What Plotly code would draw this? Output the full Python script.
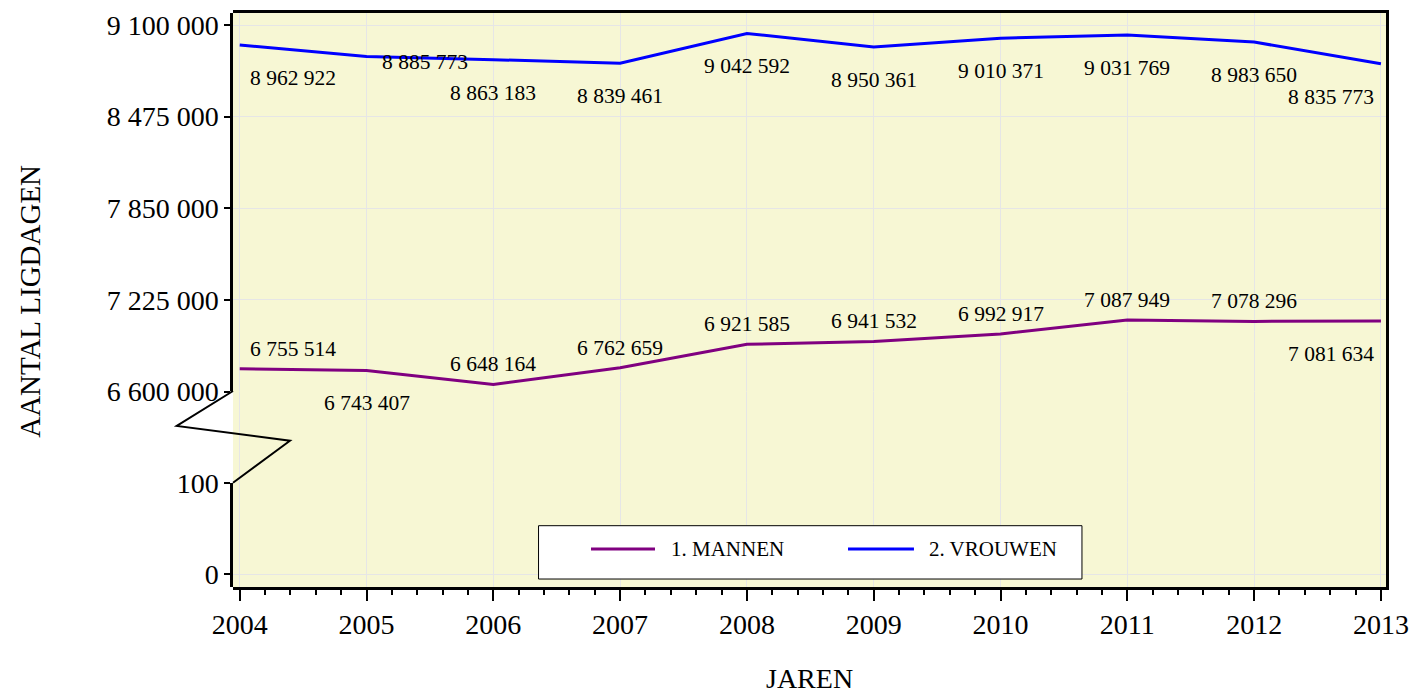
import plotly.graph_objects as go

# ---------------- data ----------------
years = [2004, 2005, 2006, 2007, 2008, 2009, 2010, 2011, 2012, 2013]
mannen = [6755514, 6743407, 6648164, 6762659, 6921585, 6941532, 6992917, 7087949, 7078296, 7081634]
vrouwen = [8962922, 8885773, 8863183, 8839461, 9042592, 8950361, 9010371, 9031769, 8983650, 8835773]
series_names = ["1. MANNEN", "2. VROUWEN"]
upper_ticks = [6600000, 7225000, 7850000, 8475000, 9100000]
lower_ticks = [0, 100]
x_title = "JAREN"
y_title = "AANTAL LIGDAGEN"

# label placement (style only)
mannen_pos = ["above", "below", "above", "above", "above", "above", "above", "above", "above", "below"]
vrouwen_pos = ["below", "side", "below", "below", "below", "below", "below", "below", "below", "below"]

# ---------------- style ----------------
FONT = "Liberation Serif"
BG = "#f7f7d4"
GRID = "#e6e6e6"
C_M = "#800080"
C_V = "#0000ff"


def fmt(v):
    return f"{v:,}".replace(",", " ")


fig = go.Figure()
# dummy traces registering the full-height background subplot and the lower axis subplot
fig.add_trace(go.Scatter(x=[], y=[], xaxis="x", yaxis="y", showlegend=False, hoverinfo="skip"))
fig.add_trace(go.Scatter(x=[], y=[], xaxis="x", yaxis="y2", showlegend=False, hoverinfo="skip"))
fig.add_trace(go.Scatter(x=years, y=mannen, name=series_names[0], mode="lines",
                         line=dict(color=C_M, width=3), xaxis="x", yaxis="y3", showlegend=False))
fig.add_trace(go.Scatter(x=years, y=vrouwen, name=series_names[1], mode="lines",
                         line=dict(color=C_V, width=3), xaxis="x", yaxis="y3", showlegend=False))

annotations = []


def add_labels(vals, pos):
    n = len(vals)
    for i, (yr, v, p) in enumerate(zip(years, vals, pos)):
        xanchor = "center"
        xshift = 0
        if i == 0:
            xanchor, xshift = "left", 8
        elif i == n - 1:
            xanchor, xshift = "right", -5
        if p == "above":
            yshift = 20
        elif p == "below":
            yshift = -33
        else:
            yshift, xanchor, xshift = -6, "left", 13
        annotations.append(dict(x=yr, y=v, xref="x", yref="y3", text=fmt(v), showarrow=False,
                                xanchor=xanchor, yanchor="middle", xshift=xshift, yshift=yshift,
                                font=dict(family=FONT, size=21.5, color="black")))


add_labels(mannen, mannen_pos)
add_labels(vrouwen, vrouwen_pos)

# axis titles
annotations.append(dict(x=-0.176, y=0.497, xref="paper", yref="paper", text=y_title, textangle=-90,
                        showarrow=False, xanchor="center", yanchor="middle",
                        font=dict(family=FONT, size=29, color="black")))
annotations.append(dict(x=0.5, y=-0.1895, xref="paper", yref="paper", text=x_title,
                        showarrow=False, xanchor="center", yanchor="bottom",
                        font=dict(family=FONT, size=28, color="black")))

# custom legend
leg_y = 0.0662
annotations.append(dict(x=0.3778, y=leg_y, xref="paper", yref="paper", text=series_names[0],
                        showarrow=False, xanchor="left", yanchor="middle",
                        font=dict(family=FONT, size=21, color="black")))
annotations.append(dict(x=0.6019, y=leg_y, xref="paper", yref="paper", text=series_names[1],
                        showarrow=False, xanchor="left", yanchor="middle",
                        font=dict(family=FONT, size=21, color="black")))

shapes = [
    # axis break zigzag
    dict(type="path", xref="paper", yref="paper",
         path="M 0,0.3415 L -0.0488,0.2805 L 0.0494,0.2549 L 0,0.1817",
         line=dict(color="black", width=2)),
    # legend box
    dict(type="rect", xref="paper", yref="paper", x0=0.2650, x1=0.7363, y0=0.0139, y1=0.1068,
         fillcolor="white", line=dict(color="black", width=1), layer="above"),
    dict(type="line", xref="paper", yref="paper", x0=0.3105, x1=0.366, y0=leg_y, y1=leg_y,
         line=dict(color=C_M, width=3), layer="above"),
    dict(type="line", xref="paper", yref="paper", x0=0.5334, x1=0.5906, y0=leg_y, y1=leg_y,
         line=dict(color=C_V, width=3), layer="above"),
]

tickfont = dict(family=FONT, size=28, color="black")

fig.update_layout(
    width=1413, height=697, autosize=False,
    margin=dict(l=233, r=27, t=13, b=110, pad=0, autoexpand=False),
    paper_bgcolor="white",
    plot_bgcolor=BG,
    showlegend=False,
    annotations=annotations,
    shapes=shapes,
    xaxis=dict(domain=[0, 1], range=[2003.947, 2013.04], anchor="y", automargin=False,
               tickmode="linear", tick0=2004, dtick=1, tickformat="d",
               ticks="outside", ticklen=11, tickwidth=1.5, tickcolor="black",
               minor=dict(dtick=0.2, tick0=2004, ticks="outside", ticklen=5, tickwidth=1.5,
                          tickcolor="black", showgrid=False),
               showgrid=True, gridcolor=GRID, gridwidth=1,
               showline=True, linecolor="black", linewidth=2.5, mirror=True,
               zeroline=False, tickfont=tickfont),
    yaxis=dict(domain=[0, 1], range=[0, 1], anchor="x", side="right", automargin=False,
               showticklabels=False, ticks="", showgrid=False, zeroline=False,
               showline=True, linecolor="black", linewidth=2.5),
    yaxis2=dict(domain=[0, 0.1817], range=[-13.85, 100], anchor="x", automargin=False,
                tickmode="array", tickvals=lower_ticks, ticktext=[fmt(v) for v in lower_ticks],
                ticks="outside", ticklen=6, tickwidth=1.5, tickcolor="black",
                showgrid=True, gridcolor=GRID, gridwidth=1, zeroline=False,
                showline=True, linecolor="black", linewidth=2.5, tickfont=tickfont),
    yaxis3=dict(domain=[0.3406, 1], range=[6600000, 9181850], anchor="x", automargin=False,
                tickmode="array", tickvals=upper_ticks, ticktext=[fmt(v) for v in upper_ticks],
                ticks="outside", ticklen=6, tickwidth=1.5, tickcolor="black",
                showgrid=True, gridcolor=GRID, gridwidth=1, zeroline=False,
                showline=True, linecolor="black", linewidth=2.5, tickfont=tickfont),
)

fig.write_html("out.html", config={"displayModeBar": False},
               post_script="document.body.style.margin='0';document.body.style.overflow='hidden';")
